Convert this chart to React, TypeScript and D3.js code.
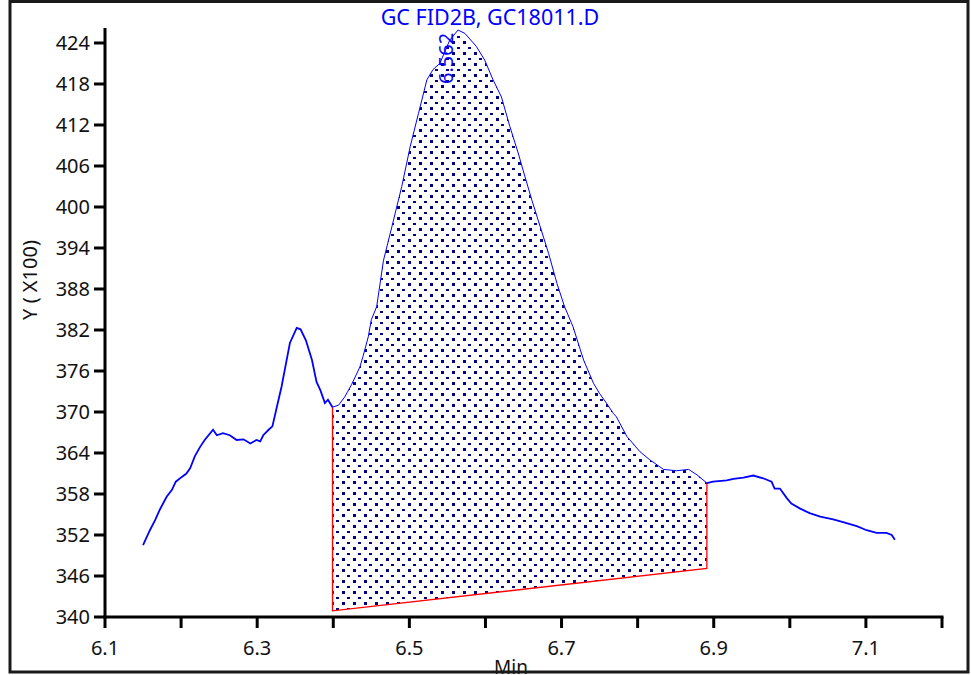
import React from "react";
import * as d3 from "d3";

const TITLE = "GC FID2B, GC18011.D";
const PEAK_LABEL = "6.562";
const PEAK_TIME = 6.562;
const X_LABEL = "Min";
const Y_LABEL = "Y ( X100)";

const xTicks = [6.1, 6.2, 6.3, 6.4, 6.5, 6.6, 6.7, 6.8, 6.9, 7.0, 7.1, 7.2];
const xTickLabels = ["6.1", "", "6.3", "", "6.5", "", "6.7", "", "6.9", "", "7.1", ""];
const yTicks = [340, 346, 352, 358, 364, 370, 376, 382, 388, 394, 400, 406, 412, 418, 424];

// signal trace: time (min), response (x100)
const times = [
  6.150, 6.159, 6.166, 6.172, 6.181, 6.188, 6.193, 6.201, 6.207, 6.212, 6.218, 6.225, 6.231,
  6.242, 6.247, 6.255, 6.264, 6.273, 6.282, 6.291, 6.299, 6.304, 6.308, 6.315, 6.320, 6.326,
  6.332, 6.337, 6.343, 6.352, 6.357, 6.364, 6.372, 6.378, 6.383, 6.389, 6.393, 6.399, 6.407,
  6.415, 6.424, 6.435, 6.439, 6.446, 6.450, 6.457, 6.466, 6.477, 6.490, 6.501, 6.512, 6.523,
  6.531, 6.540, 6.553, 6.564, 6.573, 6.588, 6.599, 6.610, 6.621, 6.632, 6.643, 6.652, 6.661,
  6.672, 6.683, 6.694, 6.704, 6.715, 6.729, 6.742, 6.750, 6.759, 6.768, 6.772, 6.786, 6.803,
  6.816, 6.834, 6.851, 6.867, 6.878, 6.891, 6.899, 6.917, 6.926, 6.939, 6.952, 6.965, 6.976,
  6.980, 6.987, 6.996, 7.002, 7.013, 7.026, 7.040, 7.057, 7.070, 7.088, 7.101, 7.114, 7.127,
  7.134, 7.138,
];
const values = [
  350.5, 352.7, 354.2, 355.7, 357.6, 358.6, 359.8, 360.5, 361.0, 361.8, 363.5, 364.9, 365.9,
  367.4, 366.6, 366.9, 366.6, 365.9, 366.0, 365.4, 365.9, 365.7, 366.6, 367.4, 367.9, 370.8,
  373.7, 376.6, 380.1, 382.3, 382.1, 380.5, 377.6, 374.4, 373.2, 371.3, 371.8, 370.7, 371.0,
  372.2, 374.0, 376.6, 378.1, 381.0, 383.5, 385.4, 392.2, 397.1, 403.0, 408.8, 413.7, 418.6,
  420.1, 421.0, 424.4, 425.9, 425.4, 423.5, 421.5, 418.6, 416.1, 411.8, 407.9, 404.4, 401.0,
  397.1, 393.2, 388.8, 385.4, 382.5, 377.6, 374.2, 372.7, 371.3, 369.8, 369.3, 366.4, 364.2,
  363.0, 361.6, 361.4, 361.6, 360.8, 359.6, 359.8, 360.0, 360.2, 360.4, 360.7, 360.3, 359.8,
  358.8, 358.8, 357.4, 356.6, 355.9, 355.2, 354.7, 354.3, 353.9, 353.3, 352.7, 352.3, 352.3,
  352.0, 351.3,
];

// integration baseline (start/end)
const baseTimes = [6.399, 6.891];
const baseValues = [340.9, 347.1];

export default function App() {
  const W = 972;
  const H = 675;
  const x = d3.scaleLinear().domain([6.1, 7.2]).range([105, 942]);
  const y = d3.scaleLinear().domain([340, 425.9]).range([617, 30]);

  const pts: [number, number][] = times.map((t, i) => [t, values[i]]);
  const t0 = baseTimes[0];
  const t1 = baseTimes[1];
  const before = pts.filter((p) => p[0] <= t0);
  const inside = pts.filter((p) => p[0] >= t0 && p[0] <= t1);
  const after = pts.filter((p) => p[0] >= t1);

  const line = d3
    .line<[number, number]>()
    .x((d) => x(d[0]))
    .y((d) => y(d[1]));

  const poly: [number, number][] = [
    ...inside,
    [t1, baseValues[1]],
    [t0, baseValues[0]],
  ];
  const areaPath = line(poly) + "Z";

  const vAt = (t: number) => {
    const i = times.findIndex((tt) => Math.abs(tt - t) < 1e-9);
    return values[i];
  };

  const red = "#ff0000";
  const blue = "#0000ff";
  const font = "'Noto Sans', 'DejaVu Sans', sans-serif";

  return (
    <div style={{ position: "absolute", left: 0, top: 0 }}>
      <svg width={W} height={H} style={{ display: "block", background: "#fff" }}>
        <defs>
          <pattern id="dots" patternUnits="userSpaceOnUse" width={11} height={11} x={1} y={8}>
            <rect x={0} y={0} width={3} height={3} fill="#000080" />
            <rect x={5} y={6} width={3} height={2} fill="#000080" />
          </pattern>
        </defs>
        <rect x={0} y={0} width={W} height={H} fill="#fff" />

        {/* integrated area */}
        <path d={areaPath} fill="url(#dots)" stroke="none" />
        {/* baseline */}
        <path
          d={line([
            [t0, vAt(t0)],
            [t0, baseValues[0]],
            [t1, baseValues[1]],
            [t1, vAt(t1)],
          ])!}
          fill="none"
          stroke={red}
          strokeWidth={1.3}
        />

        {/* trace */}
        <path d={line(before)!} fill="none" stroke={blue} strokeWidth={1.8} />
        <path d={line(inside)!} fill="none" stroke={blue} strokeWidth={1} />
        <path d={line(after)!} fill="none" stroke={blue} strokeWidth={1.8} />

        {/* axes */}
        <line x1={105} y1={28} x2={105} y2={618.5} stroke="#000" strokeWidth={3} />
        <line x1={103.5} y1={617} x2={943.5} y2={617} stroke="#000" strokeWidth={3} />
        {yTicks.map((v) => (
          <g key={"y" + v}>
            <line x1={94} x2={105} y1={y(v)} y2={y(v)} stroke="#000" strokeWidth={3} />
            <text
              x={90}
              y={y(v)}
              dy="0.36em"
              textAnchor="end"
              fontSize={20}
              fontFamily={font}
              fill="#111"
            >
              {v}
            </text>
          </g>
        ))}
        {xTicks.map((t, i) => (
          <g key={"x" + i}>
            <line x1={x(t)} x2={x(t)} y1={617} y2={628} stroke="#000" strokeWidth={3} />
            {xTickLabels[i] && (
              <text
                x={x(t)}
                y={655}
                textAnchor="middle"
                fontSize={20}
                fontFamily={font}
                fill="#111"
              >
                {xTickLabels[i]}
              </text>
            )}
          </g>
        ))}

        <text x={511} y={674} textAnchor="middle" fontSize={19} fontFamily={font} fill="#111">
          {X_LABEL}
        </text>
        <text
          transform="translate(37,280) rotate(-90)"
          textAnchor="middle"
          fontSize={20}
          fontFamily={font}
          fill="#111"
        >
          {Y_LABEL}
        </text>

        <text x={490} y={25} textAnchor="middle" fontSize={21.5} fontFamily={font} fill={blue}>
          {TITLE}
        </text>
        <text
          transform={`translate(${x(PEAK_TIME) - 4},84) rotate(-90)`}
          textAnchor="start"
          fontSize={20}
          fontFamily={font}
          fill={blue}
        >
          {PEAK_LABEL}
        </text>

        {/* frame */}
        <rect x={10} y={1.5} width={958} height={670.5} fill="none" stroke="#1a1a1a" strokeWidth={3} />
      </svg>
    </div>
  );
}
